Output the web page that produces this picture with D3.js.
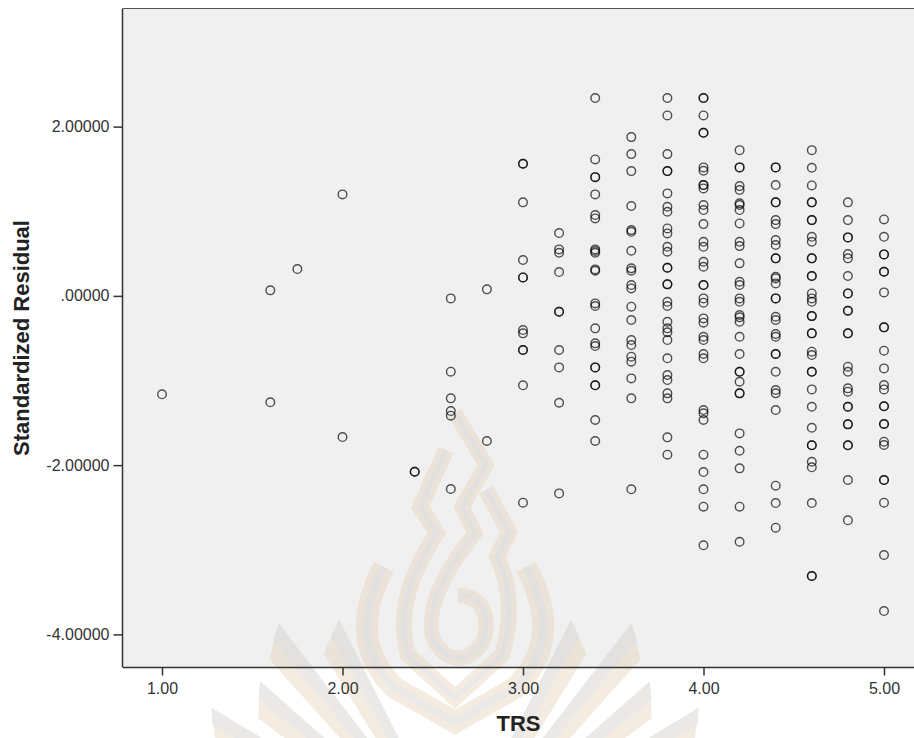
<!DOCTYPE html>
<html>
<head>
<meta charset="utf-8">
<script src="https://cdn.jsdelivr.net/npm/d3@7"></script>
<style>
  html, body { margin: 0; padding: 0; background: #ffffff; }
  svg { display: block; }
  .tick text { font-family: "Liberation Sans", Arial, sans-serif; font-size: 16px; fill: #333; }
  .axis-title { font-family: "Liberation Sans", Arial, sans-serif; font-size: 22px; font-weight: bold; fill: #222; }
</style>
</head>
<body>
<svg id="chart" width="914" height="738"></svg>
<script>
// TRS levels and the standardized residuals observed at each level
const trsLevels = [1.0, 1.6, 1.75, 2.0, 2.4, 2.6, 2.8, 3.0, 3.2, 3.4, 3.6, 3.8, 4.0, 4.2, 4.4, 4.6, 4.8, 5.0];

const resid_1_00 = [-1.163];
const resid_1_60 = [0.065, -1.258];
const resid_1_75 = [0.317];
const resid_2_00 = [1.199, -1.668];
const resid_2_40 = [-2.078, -2.078];
const resid_2_60 = [-0.03, -0.896, -1.211, -1.361, -1.416, -2.282];
const resid_2_80 = [0.077, -1.715];
const resid_3_00 = [1.561, 1.561, 1.105, 0.423, 0.218, 0.218, -0.404, -0.443, -0.64, -0.64, -1.057, -2.444];
const resid_3_20 = [0.742, 0.549, 0.509, 0.281, -0.188, -0.188, -0.64, -0.845, -1.263, -2.334];
const resid_3_40 = [2.337, 1.612, 1.403, 1.403, 1.199, 0.955, 0.915, 0.549, 0.53, 0.509, 0.313, 0.297,
                    -0.089, -0.12, -0.384, -0.561, -0.593, -0.845, -0.845, -1.057, -1.057, -1.467, -1.715];
const resid_3_60 = [1.876, 1.675, 1.474, 1.061, 0.777, 0.757, 0.533, 0.325, 0.297, 0.128, 0.088,
                    -0.128, -0.286, -0.522, -0.581, -0.719, -0.778, -0.975, -1.211, -2.286];
const resid_3_80 = [2.337, 2.132, 1.675, 1.474, 1.474, 1.211, 1.053, 0.993, 0.797, 0.738, 0.58, 0.521,
                    0.332, 0.332, 0.136, 0.136, -0.07, -0.12, -0.306, -0.384, -0.43, -0.522, -0.738,
                    -0.936, -0.995, -1.152, -1.211, -1.672, -1.877];
const resid_4_00 = [2.337, 2.337, 2.132, 1.927, 1.927, 1.518, 1.478, 1.309, 1.309, 1.27, 1.073, 1.014,
                    0.848, 0.639, 0.58, 0.403, 0.344, 0.128, 0.128, -0.03, -0.081, -0.266, -0.317,
                    -0.483, -0.522, -0.687, -0.738, -1.349, -1.388, -1.467, -1.877, -2.082, -2.286,
                    -2.491, -2.947];
const resid_4_20 = [1.722, 1.518, 1.518, 1.297, 1.25, 1.093, 1.073, 1.014, 0.856, 0.639, 0.588, 0.384,
                    0.167, 0.128, -0.03, -0.07, -0.227, -0.254, -0.306, -0.483, -0.687, -0.897,
                    -0.897, -1.015, -1.152, -1.152, -1.625, -1.83, -2.038, -2.491, -2.905];
const resid_4_40 = [1.518, 1.518, 1.309, 1.105, 1.105, 0.895, 0.848, 0.659, 0.6, 0.443, 0.443, 0.226,
                    0.206, 0.147, -0.03, -0.03, -0.247, -0.286, -0.451, -0.483, -0.687, -0.687,
                    -0.897, -1.113, -1.152, -1.349, -2.243, -2.448, -2.739];
const resid_4_60 = [1.722, 1.513, 1.305, 1.105, 1.105, 0.895, 0.895, 0.698, 0.639, 0.443, 0.443, 0.234,
                    0.234, 0.029, -0.03, -0.07, -0.239, -0.239, -0.443, -0.443, -0.66, -0.699,
                    -0.897, -0.897, -1.105, -1.31, -1.558, -1.766, -1.766, -1.96, -2.026, -2.448,
                    -3.31, -3.31];
const resid_4_80 = [1.105, 0.895, 0.691, 0.691, 0.494, 0.443, 0.234, 0.029, 0.029, -0.176, -0.176,
                    -0.443, -0.443, -0.837, -0.897, -1.093, -1.132, -1.31, -1.31, -1.518, -1.518,
                    -1.766, -1.766, -2.176, -2.652];
const resid_5_00 = [0.903, 0.698, 0.49, 0.49, 0.285, 0.285, 0.041, -0.372, -0.372, -0.648, -0.857,
                    -1.054, -1.105, -1.305, -1.305, -1.514, -1.514, -1.723, -1.762, -2.176, -2.176,
                    -2.444, -3.062, -3.724];

const residualsByLevel = [resid_1_00, resid_1_60, resid_1_75, resid_2_00, resid_2_40, resid_2_60,
  resid_2_80, resid_3_00, resid_3_20, resid_3_40, resid_3_60, resid_3_80, resid_4_00, resid_4_20,
  resid_4_40, resid_4_60, resid_4_80, resid_5_00];

const xTickValues = [1, 2, 3, 4, 5];
const yTickValues = [-4, -2, 0, 2];
const xTitle = "TRS";
const yTitle = "Standardized Residual";

// flatten into (trs, residual) points
const points = [];
trsLevels.forEach((t, i) => residualsByLevel[i].forEach(r => points.push({ trs: t, resid: r })));

const frame = { left: 123, right: 914, top: 8.5, bottom: 667.5 };

const x = d3.scaleLinear().domain([1, 5]).range([162, 884]);
const y = d3.scaleLinear().domain([-4, 2]).range([634.4, 126.6]);

const svg = d3.select("#chart");

// plot background
svg.append("rect")
  .attr("x", frame.left).attr("y", frame.top)
  .attr("width", frame.right - frame.left).attr("height", frame.bottom - frame.top)
  .attr("fill", "#f0f0f0");

// faint institutional emblem behind the data
const emblem = svg.append("g").attr("id", "emblem").attr("opacity", 0.42);
const cx0 = 455, cy0 = 860;
const rays = [
  { a: 29, r: 266 }, { a: 39.6, r: 295 }, { a: 50.7, r: 264 }, { a: 61, r: 287 },
  { a: -29, r: 266 }, { a: -39.6, r: 295 }, { a: -50.7, r: 264 }, { a: -61, r: 287 }
];
rays.forEach(d => {
  const th = d.a * Math.PI / 180;
  const ux = Math.sin(th), uy = -Math.cos(th);
  const nx = -uy, ny = ux;           // perpendicular
  const s = d.a > 0 ? 1 : -1;
  const w = 30, rIn = 90;
  const pts = [
    [cx0 + ux * d.r - nx * s * w / 2, cy0 + uy * d.r - ny * s * w / 2],
    [cx0 + ux * (d.r - 22) + nx * s * w / 2, cy0 + uy * (d.r - 22) + ny * s * w / 2],
    [cx0 + ux * rIn + nx * s * 8, cy0 + uy * rIn + ny * s * 8],
    [cx0 + ux * rIn - nx * s * 8, cy0 + uy * rIn - ny * s * 8]
  ];
  emblem.append("path")
    .attr("d", "M" + pts.map(p => p.join(",")).join("L") + "Z")
    .attr("fill", "#e6d2b8");
  // grey shading stripe along the inner edge of each ray
  const g2 = [
    pts[0],
    [cx0 + ux * (d.r - 10), cy0 + uy * (d.r - 10)],
    [cx0 + ux * rIn, cy0 + uy * rIn],
    pts[3]
  ];
  emblem.append("path")
    .attr("d", "M" + g2.map(p => p.join(",")).join("L") + "Z")
    .attr("fill", "#cfcdca");
});
const flameBands = [
  { d: "M384,567 Q345,640 395,688 L455,722 L515,688 Q565,640 526,567", w: 22 },
  { d: "M446,450 L420,507 L437,533 Q392,600 408,655 L455,698 L502,655 Q518,600 497,557 L509,532 L486,490", w: 16 },
  { d: "M455,413 L486,465 L462,507 L475,533 Q425,595 432,635 Q442,660 462,658 Q488,650 486,620 Q482,596 458,595", w: 15 }
];
flameBands.forEach(b => {
  emblem.append("path").attr("d", b.d).attr("fill", "none")
    .attr("stroke", "#e6d2b8").attr("stroke-width", b.w).attr("stroke-linejoin", "miter");
  emblem.append("path").attr("d", b.d).attr("fill", "none")
    .attr("stroke", "#cfcdca").attr("stroke-width", b.w * 0.35).attr("stroke-linejoin", "miter");
});

// frame top edge
svg.append("line")
  .attr("x1", frame.left).attr("x2", frame.right)
  .attr("y1", frame.top).attr("y2", frame.top)
  .attr("stroke", "#555").attr("stroke-width", 1);

// data points
svg.append("g")
  .selectAll("circle")
  .data(points)
  .join("circle")
  .attr("cx", d => x(d.trs))
  .attr("cy", d => y(d.resid))
  .attr("r", 4.3)
  .attr("fill", "none")
  .attr("stroke", "#000")
  .attr("stroke-opacity", 0.68)
  .attr("stroke-width", 1.4);

// axes
const yFmt = v => d3.format(".5f")(v).replace("\u2212", "-").replace(/^(-?)0\./, "$1.");

const xAxis = svg.append("g")
  .attr("transform", `translate(0,${frame.bottom})`)
  .call(d3.axisBottom(x).tickValues(xTickValues).tickFormat(d3.format(".2f"))
    .tickSize(8).tickSizeOuter(0).tickPadding(7));
xAxis.select(".domain").remove();
xAxis.append("line").attr("x1", frame.left).attr("x2", frame.right)
  .attr("stroke", "#333").attr("stroke-width", 1.5);
xAxis.selectAll(".tick line").attr("stroke", "#333").attr("stroke-width", 1.5);

const yAxis = svg.append("g")
  .attr("transform", `translate(${frame.left - 0.5},0)`)
  .call(d3.axisLeft(y).tickValues(yTickValues).tickFormat(yFmt)
    .tickSize(9).tickSizeOuter(0).tickPadding(4));
yAxis.select(".domain").remove();
yAxis.append("line").attr("y1", frame.top).attr("y2", frame.bottom)
  .attr("stroke", "#333").attr("stroke-width", 1.5);
yAxis.selectAll(".tick line").attr("stroke", "#333").attr("stroke-width", 1.5);

// axis titles
svg.append("text")
  .attr("class", "axis-title")
  .attr("x", (frame.left + frame.right) / 2)
  .attr("y", 731)
  .attr("text-anchor", "middle")
  .text(xTitle);

svg.append("text")
  .attr("class", "axis-title")
  .attr("transform", `translate(28.5,${(frame.top + frame.bottom) / 2}) rotate(-90)`)
  .attr("text-anchor", "middle")
  .text(yTitle);
</script>
</body>
</html>
